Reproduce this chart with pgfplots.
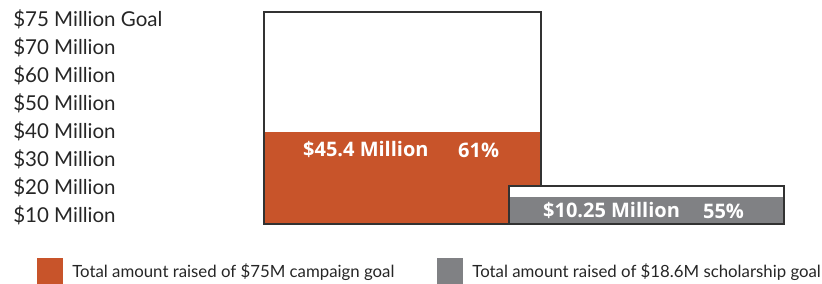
\documentclass[border=0pt]{standalone}
\usepackage{pgfplots}
\pgfplotsset{compat=1.18}
\usepackage{fontspec}
\setmainfont{Lato}
\newfontfamily\barfont{Open Sans}
\definecolor{camp}{RGB}{200,84,42}
\definecolor{schol}{RGB}{128,129,132}
\definecolor{edge}{RGB}{50,50,50}
\begin{document}
\begin{tikzpicture}
\begin{axis}[
  scale only axis, width=822pt, height=284pt,
  xmin=0, xmax=822, ymin=-60, ymax=224,
  axis line style={draw=none}, major tick length=0pt,
  xtick=\empty,
  ytick={9,37,65,93,121,149,177,205},
  yticklabels={\$10 Million,\$20 Million,\$30 Million,\$40 Million,\$50 Million,\$60 Million,\$70 Million,\$75 Million Goal},
  yticklabel style={anchor=west, inner sep=0pt, xshift=13pt, font=\fontsize{20.5}{24}\selectfont, text=black!85},
  ybar, bar shift=0pt, bar width=277,
  clip=false,
  legend image code/.code={\fill[#1] (0pt,-13pt) rectangle (26pt,13pt);},
  legend style={at={(axis cs:37,-47)}, anchor=west, draw=none, fill=none,
    legend columns=2, inner sep=0pt, font=\fontsize{16.8}{20}\selectfont,
    /tikz/every even column/.append style={column sep=43pt},
    nodes={inner sep=0pt, text=black!85},
    /tikz/every odd column/.append style={column sep=9pt}},
]
\addplot[fill=white, draw=none, forget plot] coordinates {(402.5,212)};
\addplot[fill=camp, draw=none] coordinates {(402.5,92)};
\addplot[fill=none, draw=edge, line width=1.5pt, forget plot] coordinates {(402.5,212)};
\addplot[fill=white, draw=none, forget plot, bar width=275] coordinates {(646.5,38)};
\addplot[fill=schol, draw=none, bar width=275] coordinates {(646.5,27)};
\addplot[fill=none, draw=edge, line width=1.5pt, forget plot, bar width=275] coordinates {(646.5,38)};
\legend{Total amount raised of \$75M campaign goal, Total amount raised of \$18.6M scholarship goal}
\node[anchor=west, text=white, font=\barfont\bfseries\fontsize{20}{23}\selectfont, inner sep=0pt] at (axis cs:303,74) {\$45.4 Million};
\node[anchor=west, text=white, font=\barfont\bfseries\fontsize{20}{23}\selectfont, inner sep=0pt] at (axis cs:458,74) {61\%};
\node[anchor=west, text=white, font=\barfont\bfseries\fontsize{20}{23}\selectfont, inner sep=0pt] at (axis cs:543,13) {\$10.25 Million};
\node[anchor=west, text=white, font=\barfont\bfseries\fontsize{20}{23}\selectfont, inner sep=0pt] at (axis cs:703,13) {55\%};
\end{axis}
\end{tikzpicture}
\end{document}
